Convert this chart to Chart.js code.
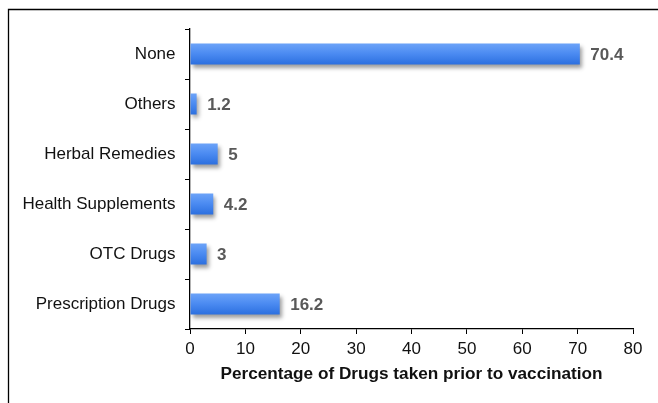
<!DOCTYPE html>
<html>
<head>
<meta charset="utf-8">
<script src="https://cdn.jsdelivr.net/npm/chart.js@4"></script>
<style>
  html, body { margin: 0; padding: 0; background: #fff; }
  #wrap { width: 658px; height: 403px; position: relative; }
</style>
</head>
<body>
<div id="wrap"><canvas id="c" width="658" height="403"></canvas></div>
<script>
const categories = ["None", "Others", "Herbal Remedies", "Health Supplements", "OTC Drugs", "Prescription Drugs"];
const values = [70.4, 1.2, 5, 4.2, 3, 16.2];
const xTicks = [0, 10, 20, 30, 40, 50, 60, 70, 80];
const xTitle = "Percentage of Drugs taken prior to vaccination";

const FONT = "'Liberation Sans', Arial, sans-serif";

const frame = {
  id: 'frame',
  beforeDraw(chart) {
    const ctx = chart.ctx;
    ctx.save();
    ctx.fillStyle = '#fff';
    ctx.fillRect(0, 0, chart.width, chart.height);
    ctx.strokeStyle = '#000';
    ctx.lineWidth = 1.3;
    ctx.beginPath();
    ctx.moveTo(8.5, chart.height + 5);
    ctx.lineTo(8.5, 9.5);
    ctx.lineTo(chart.width + 5, 9.5);
    ctx.stroke();
    ctx.restore();
  }
};

const shadow = {
  id: 'shadow',
  beforeDatasetsDraw(chart) {
    const ctx = chart.ctx;
    ctx.save();
    ctx.shadowColor = 'rgba(0,0,0,0.38)';
    ctx.shadowBlur = 4;
    ctx.shadowOffsetX = 2;
    ctx.shadowOffsetY = 3;
  },
  afterDatasetsDraw(chart) {
    chart.ctx.restore();
    const ctx = chart.ctx;
    ctx.save();
    ctx.font = "bold 17px " + FONT;
    ctx.fillStyle = '#595959';
    ctx.textAlign = 'left';
    ctx.textBaseline = 'middle';
    const meta = chart.getDatasetMeta(0);
    meta.data.forEach((bar, i) => {
      ctx.fillText(String(chart.data.datasets[0].data[i]), bar.x + 10.5, bar.y + 1);
    });
    ctx.restore();
  }
};

function barFill(context) {
  const chart = context.chart;
  const y = chart.scales.y;
  if (!chart.chartArea || !y) return '#4a8af0';
  const cy = y.getPixelForValue(context.dataIndex);
  const h = 21;
  const g = chart.ctx.createLinearGradient(0, cy - h / 2, 0, cy + h / 2);
  g.addColorStop(0, '#6ca3f8');
  g.addColorStop(0.5, '#4a8af1');
  g.addColorStop(1, '#2c6fdf');
  return g;
}

new Chart(document.getElementById('c'), {
  type: 'bar',
  data: {
    labels: categories,
    datasets: [{
      data: values,
      backgroundColor: barFill,
      borderWidth: 0,
      barPercentage: 0.42,
      categoryPercentage: 1.0
    }]
  },
  plugins: [frame, shadow],
  options: {
    indexAxis: 'y',
    responsive: false,
    animation: false,
    devicePixelRatio: 1,
    layout: { padding: { top: 29, right: 25, left: 0, bottom: 0 } },
    plugins: { legend: { display: false }, tooltip: { enabled: false } },
    scales: {
      x: {
        min: 0, max: 80,
        afterFit(scale) { scale.height = 74; },
        afterBuildTicks(scale) { scale.ticks = xTicks.map(v => ({ value: v })); },
        ticks: { color: '#111', font: { family: FONT, size: 17 }, padding: 5.5 },
        grid: { drawOnChartArea: false, drawTicks: true, tickLength: 5, color: '#000', lineWidth: 1 },
        border: { display: true, color: '#000', width: 1.3 },
        title: {
          display: true, text: xTitle, color: '#111',
          font: { family: FONT, size: 17.2, weight: 'bold' },
          padding: { top: 0, bottom: 18 }
        }
      },
      y: {
        afterFit(scale) { scale.width = 190; },
        ticks: { color: '#111', font: { family: FONT, size: 17 }, padding: 9.5 },
        grid: { drawOnChartArea: false, drawTicks: true, tickLength: 5, color: '#000', lineWidth: 1, offset: true },
        border: { display: true, color: '#000', width: 1.3 }
      }
    }
  }
});
</script>
</body>
</html>
